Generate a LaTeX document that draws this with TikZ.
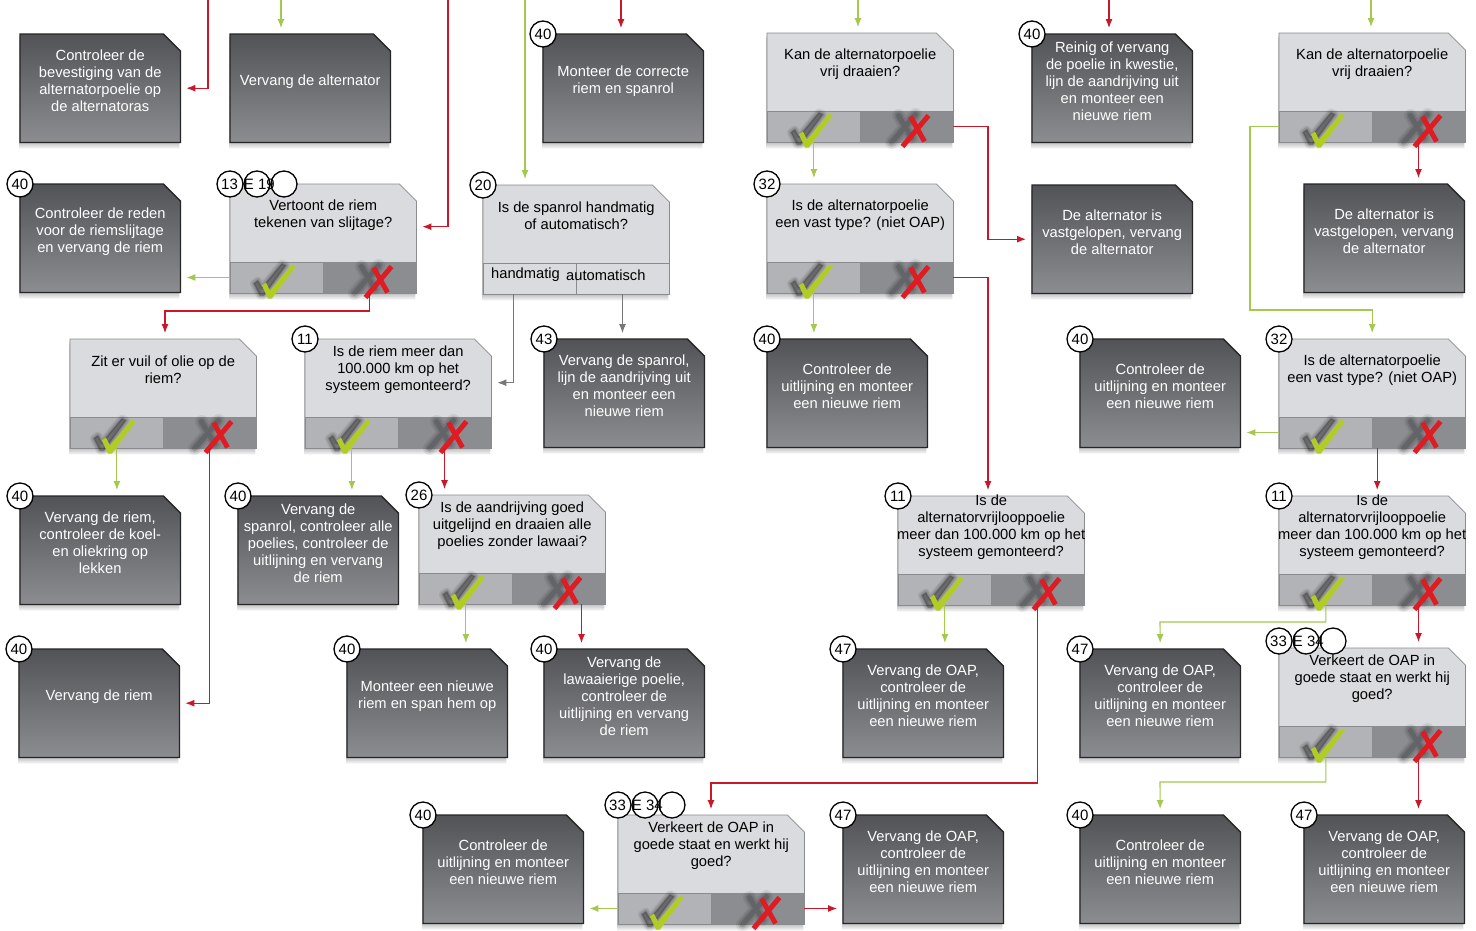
\documentclass[tikz,border=0pt]{standalone}
\usepackage{fontspec}
\setmainfont{Liberation Sans}
\usetikzlibrary{arrows.meta,calc}

\definecolor{actdark}{RGB}{82,83,87}
\definecolor{actlight}{RGB}{140,141,145}
\definecolor{askfill}{RGB}{218,219,222}
\definecolor{askedge}{RGB}{138,139,143}
\definecolor{yescell}{RGB}{178,179,182}
\definecolor{nocell}{RGB}{140,141,145}
\definecolor{okgreen}{RGB}{178,204,38}
\definecolor{nored}{RGB}{222,28,36}
\definecolor{glc}{RGB}{164,200,80}
\definecolor{rlc}{RGB}{200,24,42}
\definecolor{klc}{RGB}{120,120,122}

\newcommand{\boxfont}{\fontsize{14.7bp}{17bp}\selectfont}
\newcommand{\nrfont}{\fontsize{15bp}{15bp}\selectfont}

% dark action box: name, x, y, text
\newcommand{\actbox}[4]{%
  \node[act] (#1) at (#2,#3) {};
  \foreach \s in {2,4,6}
    \fill[dropc,transform canvas={xshift=-1bp,yshift=-\s bp}] (#1.south west) -- (#1.north west) -- ([xshift=-17bp]#1.north east) -- ([yshift=-17bp]#1.north east) -- (#1.south east) -- cycle;
  \shadedraw[actshade] (#1.south west) -- (#1.north west) -- ([xshift=-17bp]#1.north east) -- ([yshift=-17bp]#1.north east) -- (#1.south east) -- cycle;
  \node[acttxt] (#1t) at ([yshift=7bp]#1.center) {#4};
}

% question box with two answer cells: [cell options] name, x, y, text
\newcommand{\askbox}[5][]{%
  \node[ask] (#2) at (#3,#4) {};
  \foreach \s in {2,4,6}
    \fill[dropc,transform canvas={xshift=-1bp,yshift=-\s bp}] (#2.south west) -- (#2.north west) -- ([xshift=-17bp]#2.north east) -- ([yshift=-17bp]#2.north east) -- (#2.south east) -- cycle;
  \filldraw[askshade] (#2.south west) -- (#2.north west) -- ([xshift=-17bp]#2.north east) -- ([yshift=-17bp]#2.north east) -- (#2.south east) -- cycle;
  \node[cell,fill=yescell,anchor=south west,#1] (#2y) at (#2.south west) {};
  \node[cell,fill=nocell,anchor=south east,#1] (#2n) at (#2.south east) {};
  \node[asktxt] (#2t) at ([yshift=-31bp]#2.north) {#5};
}

% check and cross in the answer cells
\newcommand{\yesno}[1]{%
  \begin{scope}[shift={(#1y.center)}]
    \foreach \w/\o in {8/.07,5/.1,2/.14}
      \filldraw[black,opacity=\o,line width=\w bp,line join=round] (-23,6) -- (-19,3) -- (-15,10) -- (5,-14) -- (9,-12) -- (-13,18) -- (-17,18) -- cycle;
    \fill[okgreen] (-15,8) -- (-11,5) -- (-7,13) -- (15,-13) -- (19,-11) -- (-5,21) -- (-9,21) -- cycle;
  \end{scope}
  \begin{scope}[shift={(#1n.center)}]
    \foreach \w/\o in {13/.07,9/.1,5/.14}
      \draw[black,opacity=\o,line width=\w bp,line cap=round] (-15,16) -- (9,-12) (-8,-11) -- (5,11);
    \draw[nored,line width=5bp] (-4,20) -- (22,-11) (4,-10) -- (18,15);
  \end{scope}
}

\begin{document}
\begin{tikzpicture}[x=1bp,y=-1bp,
  act/.style={rectangle,minimum width=160bp,minimum height=108bp,inner sep=0pt,anchor=north west},
  ask/.style={rectangle,minimum width=186bp,minimum height=109bp,inner sep=0pt,anchor=north west},
  cell/.style={rectangle,draw=askedge,line width=.8bp,minimum width=93bp,minimum height=31bp,inner sep=0pt},
  actshade/.style={top color=actdark,bottom color=actlight,draw=black!85,line width=1.3bp},
  askshade/.style={fill=askfill,draw=askedge,line width=.8bp},
  dropc/.style={black,opacity=.08},
  acttxt/.style={text=white,align=center,font=\boxfont,inner sep=0pt},
  asktxt/.style={text=black,align=center,font=\boxfont,inner sep=0pt},
  nr/.style={circle,draw=black,fill=white,line width=1.3bp,minimum size=26bp,inner sep=0pt,font=\nrfont},
  gl/.style={draw=glc,line width=1.1bp,-{Latex[length=9bp,width=7bp]},shorten >=6bp},
  rl/.style={gl,draw=rlc},
  kl/.style={gl,draw=klc}]
\useasboundingbox[fill=white] (0,0) rectangle (1476,930);

% row 1
\actbox{a1}{20}{34}{Controleer de\\bevestiging van de\\alternatorpoelie op\\de alternatoras}
\actbox{a2}{230}{34}{Vervang de alternator}
\actbox{a3}{543}{34}{Monteer de correcte\\riem en spanrol}
\askbox{q1}{767}{33}{Kan de alternatorpoelie\\vrij draaien?}
\actbox{a4}{1032}{34}{Reinig of vervang\\de poelie in kwestie,\\lijn de aandrijving uit\\en monteer een\\nieuwe riem}
\askbox{q2}{1279}{33}{Kan de alternatorpoelie\\vrij draaien?}

% row 2
\actbox{a5}{20}{184}{Controleer de reden\\voor de riemslijtage\\en vervang de riem}
\askbox{q3}{230}{184}{Vertoont de riem\\tekenen van slijtage?}
\askbox[fill=askfill]{q4}{483}{185}{Is de spanrol handmatig\\of automatisch?}
\askbox{q5}{767}{184}{Is de alternatorpoelie\\een vast type? (niet OAP)}
\actbox{a6}{1032}{185}{De alternator is\\vastgelopen, vervang\\de alternator}
\actbox{a7}{1304}{184}{De alternator is\\vastgelopen, vervang\\de alternator}

% row 3
\askbox{q6}{70}{339}{Zit er vuil of olie op de\\riem?}
\askbox{q7}{305}{339}{Is de riem meer dan\\100.000 km op het\\systeem gemonteerd?}
\actbox{a8}{544}{339}{Vervang de spanrol,\\lijn de aandrijving uit\\en monteer een\\nieuwe riem}
\actbox{a9}{767}{339}{Controleer de\\uitlijning en monteer\\een nieuwe riem}
\actbox{a10}{1080}{339}{Controleer de\\uitlijning en monteer\\een nieuwe riem}
\askbox{q8}{1279}{339}{Is de alternatorpoelie\\een vast type? (niet OAP)}

% row 4
\actbox{a11}{20}{496}{Vervang de riem,\\controleer de koel-\\en oliekring op\\lekken}
\actbox{a12}{238}{496}{Vervang de\\spanrol, controleer alle\\poelies, controleer de\\uitlijning en vervang\\de riem}
\askbox{q9}{419}{495}{Is de aandrijving goed\\uitgelijnd en draaien alle\\poelies zonder lawaai?}
\askbox{q10}{898}{496}{Is de\\alternatorvrijlooppoelie\\meer dan 100.000 km op het\\systeem gemonteerd?}
\askbox{q11}{1279}{496}{Is de\\alternatorvrijlooppoelie\\meer dan 100.000 km op het\\systeem gemonteerd?}

% row 5
\actbox{a13}{19}{649}{Vervang de riem}
\actbox{a14}{347}{649}{Monteer een nieuwe\\riem en span hem op}
\actbox{a15}{544}{649}{Vervang de\\lawaaierige poelie,\\controleer de\\uitlijning en vervang\\de riem}
\actbox{a16}{843}{649}{Vervang de OAP,\\controleer de\\uitlijning en monteer\\een nieuwe riem}
\actbox{a17}{1080}{649}{Vervang de OAP,\\controleer de\\uitlijning en monteer\\een nieuwe riem}
\askbox{q12}{1279}{648}{Verkeert de OAP in\\goede staat en werkt hij\\goed?}

% row 6
\actbox{a18}{423}{815}{Controleer de\\uitlijning en monteer\\een nieuwe riem}
\askbox{q13}{618}{815}{Verkeert de OAP in\\goede staat en werkt hij\\goed?}
\actbox{a19}{843}{815}{Vervang de OAP,\\controleer de\\uitlijning en monteer\\een nieuwe riem}
\actbox{a20}{1080}{815}{Controleer de\\uitlijning en monteer\\een nieuwe riem}
\actbox{a21}{1304}{815}{Vervang de OAP,\\controleer de\\uitlijning en monteer\\een nieuwe riem}

\node[asktxt,anchor=west] (q4h) at (491,275) {handmatig};
\node[asktxt,anchor=west] (q4a) at (566,275) {automatisch};

\foreach \q in {q1,q2,q3,q5,q6,q7,q8,q9,q10,q11,q12,q13}
  \yesno{\q};

% step numbers
\foreach \b/\n in {a3/40,a4/40,a5/40,q4/20,q5/32,q7/11,a8/43,a9/40,a10/40,q8/32,a11/40,a12/40,q9/26,q10/11,q11/11,a13/40,a14/40,a15/40,a16/47,a17/47,a18/40,a19/47,a20/40,a21/47}
  \node[nr] (\b nr) at (\b.north west) {\n};
\foreach \k in {0,1,2}{
  \node[nr] (q3c\k) at ([xshift=27bp*\k]q3.north west) {};
  \node[nr] (q12c\k) at ([xshift=27bp*\k,yshift=7bp]q12.north west) {};
  \node[nr] (q13c\k) at ([xshift=27bp*\k,yshift=10bp]q13.north west) {};
}
\node[asktxt,font=\nrfont,anchor=west] (q3l) at ([xshift=-9bp]q3.north west) {13\hspace{6bp}E 19};
\node[asktxt,font=\nrfont,anchor=west] (q12l) at ([xshift=-9bp,yshift=7bp]q12.north west) {33\hspace{6bp}E 34};
\node[asktxt,font=\nrfont,anchor=west] (q13l) at ([xshift=-9bp,yshift=10bp]q13.north west) {33\hspace{6bp}E 34};

% incoming lines
\coordinate (in1) at (208,0);
\coordinate (in2) at (281,0);
\coordinate (in3) at (448,0);
\coordinate (in4) at (525,0);
\coordinate (in5) at (621,0);
\coordinate (in6) at (858,0);
\coordinate (in7) at (1109,0);
\coordinate (in8) at (1371,0);
\draw[rl] (in1) |- (a1.east);
\draw[gl] (in2) -- (in2 |- a2.north);
\draw[rl] (in3) |- ([yshift=12bp]q3.east);
\draw[gl] (in4) -- (in4 |- q4.north);
\draw[rl] (in5) -- (in5 |- a3.north);
\draw[gl] (in6) -- (in6 |- q1.north);
\draw[rl] (in7) -- (in7 |- a4.north);
\draw[gl] (in8) -- (in8 |- q2.north);

% bends
\coordinate (b1) at (988,0);
\coordinate (b2) at (1250,310);
\coordinate (b3) at (1160,622);
\coordinate (b4) at (1160,782);
\coordinate (b5) at (711,783);
\coordinate (b6) at (165,311);
\coordinate (c4) at ([xshift=-16bp]q4y.south);
\coordinate (c8) at ([xshift=5bp]q8.south);
\coordinate (c9) at ([xshift=23bp]q9n.south);

\draw[gl] (q1y.south) -- (q1y.south |- q5.north);
\draw[rl] (q1n.east) -| (b1 |- a6.west) -- (a6.west);
\draw[gl] (q5y.south) -- (q5y.south |- a9.north);
\draw[rl] (q5n.east) -| (b1 |- q10.north);
\draw[gl] (q2y.west) -| (b2) -| (q8.north);
\draw[rl] (q2n.south) -- (q2n.south |- a7.north);
\draw[gl] (q8y.west) -- (q8y.west -| a10.east);
\draw[rl] (c8) -- (c8 |- q11.north);
\draw[gl] (q11y.south) |- (b3) -- (a17.north);
\draw[rl] (q11n.south) -- (q11n.south |- q12.north);
\draw[gl] (q12y.south) |- (b4) -- (a20.north);
\draw[rl] (q12n.south) -- (q12n.south |- a21.north);
\draw[gl] (q10y.south) -- (q10y.south |- a16.north);
\draw[rl] (q10n.south) |- (b5) -- (b5 |- q13.north);
\draw[gl] (q13y.west) -- (q13y.west -| a18.east);
\draw[rl] (q13n.east) -- (q13n.east -| a19.west);
\draw[gl] (q3y.west) -- (q3y.west -| a5.east);
\draw[rl] (q3n.south) |- (b6) -- (b6 |- q6.north);
\draw[gl] (q6y.south) -- (q6y.south |- a11.north);
\draw[rl] (q6n.south) |- (a13.east);
\draw[kl] (c4) |- ([yshift=11bp]q7.east);
\draw[kl] (q4n.south) -- (q4n.south |- a8.north);
\draw[gl] (q7y.south) -- (q7y.south |- a12.north);
\draw[rl] (q7n.south) -- (q7n.south |- q9.north);
\draw[gl] (q9y.south) -- (q9y.south |- a14.north);
\draw[rl] (c9) -- (c9 |- a15.north);
\end{tikzpicture}
\end{document}
